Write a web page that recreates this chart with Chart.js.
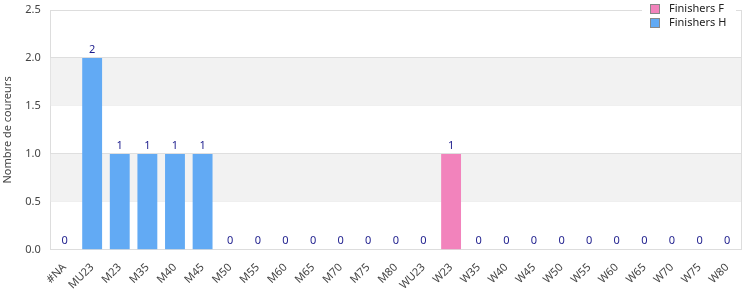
<!DOCTYPE html>
<html>
<head>
<meta charset="utf-8">
<script src="https://cdn.jsdelivr.net/npm/chart.js@4.4.0/dist/chart.umd.min.js"></script>
<style>
  html, body { margin: 0; padding: 0; background: #fff; }
  #wrap { width: 750px; height: 300px; }
</style>
</head>
<body>
<div id="wrap"><canvas id="myChart"></canvas></div>
<script>
const categories = ["#NA", "MU23", "M23", "M35", "M40", "M45", "M50", "M55", "M60", "M65", "M70", "M75", "M80",
  "WU23", "W23", "W35", "W40", "W45", "W50", "W55", "W60", "W65", "W70", "W75", "W80"];
const finishersF = [0, 0, 0, 0, 0, 0, 0, 0, 0, 0, 0, 0, 0, 0, 1, 0, 0, 0, 0, 0, 0, 0, 0, 0, 0];
const finishersH = [0, 2, 1, 1, 1, 1, 0, 0, 0, 0, 0, 0, 0, 0, 0, 0, 0, 0, 0, 0, 0, 0, 0, 0, 0];
const yTicks = [0, 0.5, 1, 1.5, 2, 2.5];

const pink = "#f283bc";
const blue = "#62aaf4";
const fontName = "'Noto Sans'";

// gray bands behind the bars
const bands = {
  id: "bands",
  beforeDatasetsDraw(chart) {
    let ctx = chart.ctx;
    let area = chart.chartArea;
    let y = chart.scales.y;
    ctx.save();
    ctx.fillStyle = "#f2f2f2";
    for (let i = 0; i < yTicks.length - 1; i++) {
      if (i % 2 == 1) {
        let top = y.getPixelForValue(yTicks[i + 1]);
        let bottom = y.getPixelForValue(yTicks[i]);
        ctx.fillRect(area.left, top, area.right - area.left, bottom - top);
      }
    }
    ctx.restore();
  }
};

// totals above each stack, border on the right, and the legend box
const extras = {
  id: "extras",
  afterDraw(chart) {
    let ctx = chart.ctx;
    let area = chart.chartArea;
    let x = chart.scales.x;
    let y = chart.scales.y;
    ctx.save();
    ctx.strokeStyle = "#dddddd";
    ctx.lineWidth = 1;
    ctx.beginPath();
    ctx.moveTo(Math.round(area.right) + 0.5, area.top);
    ctx.lineTo(Math.round(area.right) + 0.5, area.bottom);
    ctx.stroke();

    ctx.font = "11px " + fontName;
    ctx.fillStyle = "#1c1c8c";
    ctx.textAlign = "center";
    ctx.textBaseline = "bottom";
    categories.forEach((c, i) => {
      let total = finishersF[i] + finishersH[i];
      ctx.fillText(String(total), x.getPixelForValue(i), y.getPixelForValue(total) - 3);
    });

    // legend
    let items = [["Finishers F", pink], ["Finishers H", blue]];
    ctx.fillStyle = "#ffffff";
    ctx.fillRect(642, 0, 94, 30);
    ctx.textAlign = "left";
    ctx.textBaseline = "middle";
    items.forEach((it, i) => {
      let cy = 9 + i * 14;
      ctx.fillStyle = it[1];
      ctx.fillRect(651, cy - 4, 8, 8);
      ctx.strokeStyle = "#888888";
      ctx.strokeRect(650.5, cy - 4.5, 9, 9);
      ctx.fillStyle = "#222222";
      ctx.fillText(it[0], 669, cy);
    });
    ctx.restore();
  }
};

const ctx = document.getElementById("myChart");

new Chart(ctx, {
  type: "bar",
  data: {
    labels: categories,
    datasets: [
      { label: "Finishers F", data: finishersF, backgroundColor: pink },
      { label: "Finishers H", data: finishersH, backgroundColor: blue }
    ]
  },
  options: {
    responsive: true,
    maintainAspectRatio: false,
    animation: false,
    layout: { padding: { top: 10, right: 9, left: 0, bottom: 5 } },
    plugins: {
      legend: { display: false },
      tooltip: { enabled: false }
    },
    scales: {
      x: {
        stacked: true,
        grid: { display: false },
        border: { color: "#dddddd" },
        ticks: {
          color: "#444444",
          font: { family: fontName, size: 11 },
          minRotation: 45,
          maxRotation: 45,
          autoSkip: false
        }
      },
      y: {
        stacked: true,
        min: 0,
        max: 2.5,
        afterFit(scale) {
          scale.paddingTop = 0;
        },
        grid: { color: "#dddddd", drawTicks: false },
        border: { color: "#dddddd" },
        ticks: {
          stepSize: 0.5,
          padding: 10,
          color: "#444444",
          font: { family: fontName, size: 11 },
          callback: v => v.toFixed(1)
        },
        title: {
          display: true,
          text: "Nombre de coureurs",
          color: "#444444",
          padding: { top: 1, bottom: 1 },
          font: { family: fontName, size: 11 }
        }
      }
    }
  },
  plugins: [bands, extras]
});
</script>
</body>
</html>
